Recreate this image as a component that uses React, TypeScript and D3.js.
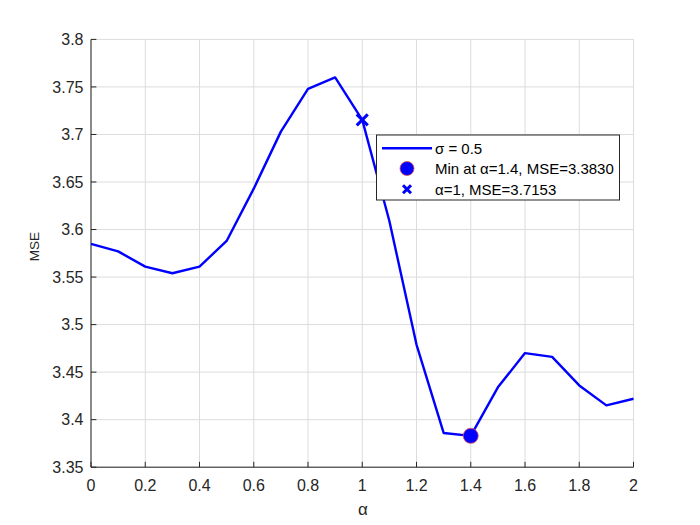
import React from "react";
import * as d3 from "d3";

const alphas = [0, 0.1, 0.2, 0.3, 0.4, 0.5, 0.6, 0.7, 0.8, 0.9, 1.0, 1.1, 1.2, 1.3, 1.4, 1.5, 1.6, 1.7, 1.8, 1.9, 2.0];
const mse = [3.585, 3.577, 3.561, 3.554, 3.561, 3.588, 3.643, 3.703, 3.748, 3.760, 3.7153, 3.609, 3.479, 3.386, 3.383, 3.434, 3.470, 3.466, 3.436, 3.415, 3.422];
const xTicks = [0, 0.2, 0.4, 0.6, 0.8, 1, 1.2, 1.4, 1.6, 1.8, 2];
const yTicks = [3.35, 3.4, 3.45, 3.5, 3.55, 3.6, 3.65, 3.7, 3.75, 3.8];
const minPoint = { a: 1.4, v: 3.383 };
const refPoint = { a: 1, v: 3.7153 };
const legendLabels = ["σ = 0.5", "Min at α=1.4, MSE=3.3830", "α=1, MSE=3.7153"];

const W = 700, H = 525;
const L = 91, R = 633.5, T = 39.4, B = 467.2;
const font = "'Liberation Sans', Arial, Helvetica, sans-serif";

export default function App() {
  const x = d3.scaleLinear().domain([0, 2]).range([L, R]);
  const y = d3.scaleLinear().domain([3.35, 3.8]).range([B, T]);
  const line = d3.line<number>().x((_, i) => x(alphas[i])).y((d) => y(d))(mse) || "";
  const fmtX = (d: number) => String(d);
  const fmtY = (d: number) => String(+d.toFixed(2));
  const axisColor = "#262626";
  const gridColor = "#dcdcdc";
  const xm = x(refPoint.a), ym = y(refPoint.v);
  const lx = 376.5, ly = 135, lw = 243, lh = 65;
  const rows = [148.3, 168.5, 189.3];
  return (
    <svg width={W} height={H} style={{ position: "absolute", left: 0, top: 0, background: "#fff" }}>
      <rect x={0} y={0} width={W} height={H} fill="#fff" />
      {xTicks.map((t) => (
        <line key={"gx" + t} x1={x(t)} x2={x(t)} y1={T} y2={B} stroke={gridColor} strokeWidth={1} />
      ))}
      {yTicks.map((t) => (
        <line key={"gy" + t} x1={L} x2={R} y1={y(t)} y2={y(t)} stroke={gridColor} strokeWidth={1} />
      ))}
      <line x1={L} x2={R} y1={B} y2={B} stroke={axisColor} strokeWidth={1} />
      <line x1={L} x2={L} y1={T} y2={B} stroke={axisColor} strokeWidth={1} />
      {xTicks.map((t) => (
        <g key={"tx" + t}>
          <line x1={x(t)} x2={x(t)} y1={B} y2={B - 5.4} stroke={axisColor} />
          <text x={x(t)} y={490.5} textAnchor="middle" fontFamily={font} fontSize={16} fill={axisColor}>{fmtX(t)}</text>
        </g>
      ))}
      {yTicks.map((t) => (
        <g key={"ty" + t}>
          <line x1={L} x2={L + 5.4} y1={y(t)} y2={y(t)} stroke={axisColor} />
          <text x={83.5} y={y(t) + 5.7} textAnchor="end" fontFamily={font} fontSize={16} fill={axisColor}>{fmtY(t)}</text>
        </g>
      ))}
      <text x={363} y={515} textAnchor="middle" fontFamily={font} fontSize={17} fill={axisColor}>α</text>
      <text transform={`translate(38.5,246.5) rotate(-90)`} textAnchor="middle" fontFamily={font} fontSize={13.5} fill={axisColor}>MSE</text>
      <path d={line} fill="none" stroke="#0000ff" strokeWidth={2.4} strokeLinejoin="round" />
      <circle cx={x(minPoint.a)} cy={y(minPoint.v)} r={7.5} fill="#0000ff" stroke="#e05050" strokeWidth={0.8} />
      <g stroke="#0000ff" strokeWidth={3}>
        <line x1={xm - 5.5} x2={xm + 5.5} y1={ym - 5.5} y2={ym + 5.5} />
        <line x1={xm - 5.5} x2={xm + 5.5} y1={ym + 5.5} y2={ym - 5.5} />
      </g>
      <rect x={lx} y={ly} width={lw} height={lh} fill="#fff" stroke={axisColor} strokeWidth={1} />
      <line x1={382} x2={432} y1={rows[0]} y2={rows[0]} stroke="#0000ff" strokeWidth={2.4} />
      <circle cx={407} cy={rows[1]} r={7} fill="#0000ff" stroke="#e05050" strokeWidth={0.8} />
      <g stroke="#0000ff" strokeWidth={3}>
        <line x1={403} x2={411} y1={rows[2] - 4} y2={rows[2] + 4} />
        <line x1={403} x2={411} y1={rows[2] + 4} y2={rows[2] - 4} />
      </g>
      {legendLabels.map((s, i) => (
        <text key={s} x={435} y={rows[i] + 5.3} fontFamily={font} fontSize={15} fill="#000">{s}</text>
      ))}
    </svg>
  );
}
